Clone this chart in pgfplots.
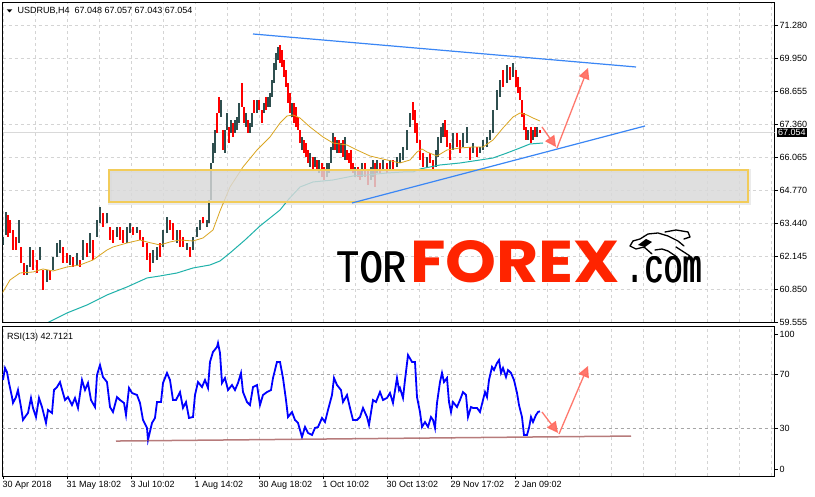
\documentclass[border=0pt]{standalone}
\usepackage{pgfplots}
\pgfplotsset{compat=1.18}
\usepackage{pgfplotstable}
\usepackage{fontspec}
\setmainfont{Liberation Sans}
\newfontfamily\logomono{Liberation Mono}
\newfontfamily\logobold{Poppins}
\usetikzlibrary{arrows.meta}

\definecolor{candleDark}{HTML}{2F4F4F}
\definecolor{candleRed}{HTML}{FF0000}
\definecolor{maGold}{HTML}{DAA520}
\definecolor{maTeal}{HTML}{20B2AA}
\definecolor{trendBlue}{HTML}{3A86F5}
\definecolor{arrowRed}{HTML}{FF6A5E}
\definecolor{rsiBlue}{HTML}{0000FF}
\definecolor{supportBrown}{HTML}{A05050}
\definecolor{gridGray}{HTML}{D4D4D4}
\definecolor{boxGold}{HTML}{F2CC5A}
\definecolor{boxFill}{HTML}{D9D9D9}
\definecolor{logoRed}{HTML}{FF2400}

\pgfplotsset{
  mtpanel/.style={
    scale only axis, width=772pt, xmin=2.5, xmax=774.5,
    at={(0pt,0pt)}, anchor=south west,
    axis line style={black, line width=0.8pt},
    ytick pos=right, yticklabel pos=right,
    tick align=outside, major tick length=3.5pt,
    tick style={black, line width=0.6pt},
    grid style={gridGray, dash pattern=on 3pt off 3pt, line width=0.6pt},
    ticklabel style={font=\fontsize{9}{10}\selectfont},
    yticklabel style={anchor=west, inner sep=0pt, xshift=1.5pt},
  },
  candles/.style={draw=none, error bars/.cd, y dir=plus, y explicit,
    error mark=none, error bar style={draw=#1, line width=2pt}},
}

\begin{document}
% x = bar position in pixels, lo/hi = low and high price of the bar
\pgfplotstableread{
x lo hi
3 62.595 62.911
6 62.990 63.898
19 62.674 63.582
27 61.411 61.806
30 61.727 62.516
40 62.003 62.516
47 61.135 61.608
53 61.608 62.122
57 62.122 62.674
60 62.280 62.793
70 61.806 62.201
77 61.806 62.280
83 62.003 62.793
90 62.280 63.069
97 62.911 63.582
100 63.464 64.096
107 63.464 63.859
117 62.911 63.306
127 62.674 63.306
130 63.069 63.464
137 63.069 63.306
153 61.885 62.398
157 62.003 62.516
163 62.516 63.188
167 63.069 63.701
177 62.674 63.188
187 62.398 62.674
193 62.398 62.911
197 62.911 63.306
200 63.188 63.582
207 63.306 63.582
209 63.464 64.372
211 64.372 65.833
213 65.833 66.622
215 66.228 67.136
221 67.649 68.320
225 66.228 67.136
227 67.136 67.807
231 67.017 67.530
235 67.017 67.530
237 67.136 67.649
239 67.412 68.202
246 67.254 67.807
250 67.017 67.412
252 67.254 67.807
257 67.807 68.320
264 67.807 68.202
268 68.044 68.438
270 68.044 68.596
272 68.438 69.110
274 68.991 69.781
276 69.504 70.176
278 69.899 70.412
292 67.649 68.202
302 66.346 66.859
310 65.675 66.228
315 65.675 66.070
319 65.438 65.951
327 65.280 65.833
329 65.438 65.833
331 65.833 66.464
333 66.346 67.017
337 66.228 66.741
341 66.228 66.622
345 65.951 66.859
355 65.280 65.675
362 65.280 65.833
371 65.162 65.675
373 65.280 65.951
377 65.438 65.951
383 65.556 65.951
390 65.556 65.951
397 65.675 66.070
400 65.833 66.228
403 65.951 66.464
407 66.346 67.136
410 67.254 67.807
427 65.675 66.070
436 65.675 66.346
438 66.070 66.859
441 66.622 67.254
443 66.859 67.412
453 66.346 67.017
463 66.464 67.017
467 66.622 67.254
473 66.228 66.622
480 66.228 66.464
483 66.346 66.741
487 66.464 66.859
490 66.741 67.136
493 67.017 67.925
497 67.925 68.715
500 68.438 69.110
507 68.991 69.702
513 69.228 69.781
528 66.741 67.136
533 66.741 67.136
537 66.859 67.254
}\candleUp
\pgfplotstableread{
x lo hi
8 62.911 63.780
10 63.069 63.582
13 62.398 63.188
16 62.398 62.911
21 61.885 62.516
24 61.411 61.885
33 61.608 62.398
37 61.490 62.003
43 60.819 61.608
50 61.214 61.608
63 61.885 62.516
67 61.885 62.280
73 61.727 62.122
80 61.727 62.003
87 62.122 62.674
93 62.003 62.793
103 63.306 63.859
110 62.793 63.306
113 62.674 63.188
120 62.793 63.306
123 62.674 63.188
133 62.990 63.306
140 62.793 63.188
143 62.516 62.911
147 62.003 62.674
150 61.529 62.280
160 62.122 62.674
170 63.188 63.582
173 62.793 63.464
180 62.516 63.188
183 62.516 62.911
190 62.122 62.516
203 63.464 63.701
217 67.017 67.807
219 67.807 68.438
223 66.346 67.136
229 66.622 67.254
233 66.859 67.412
242 68.044 68.991
244 67.412 68.044
248 67.017 67.530
254 67.807 68.320
259 67.925 68.320
262 67.412 67.925
266 67.925 68.438
280 69.781 70.491
282 69.623 70.294
284 69.228 69.899
286 68.833 69.504
288 68.202 68.991
290 67.807 68.596
294 67.412 68.202
296 67.254 68.044
298 67.136 67.649
300 66.622 67.136
304 66.228 66.741
306 66.070 66.622
308 65.833 66.346
313 65.556 66.070
317 65.556 65.951
322 65.280 65.833
324 65.162 65.675
335 66.346 66.859
339 66.228 66.741
343 66.070 66.741
347 65.951 66.346
349 65.833 66.228
351 65.556 66.346
353 65.438 65.833
358 65.280 65.675
360 65.162 65.556
365 65.280 65.833
368 64.964 65.556
375 64.885 65.833
380 65.438 65.833
387 65.438 65.833
393 65.556 65.951
413 67.530 68.241
415 67.017 67.925
417 66.622 67.412
420 65.951 66.741
423 65.675 66.228
430 65.833 66.228
433 65.556 65.951
445 66.859 67.530
447 66.464 67.136
450 65.951 66.622
457 66.464 67.017
460 66.228 66.741
470 65.951 66.464
477 66.070 66.464
503 68.833 69.504
510 69.110 69.623
516 68.833 69.504
518 68.596 69.228
520 68.320 68.833
522 67.649 68.320
524 67.136 67.807
526 66.741 67.254
531 66.622 67.254
535 66.859 67.254
540 67.017 67.136
}\candleDown

\begin{tikzpicture}[x=1pt,y=1pt]
\fill[white] (0,0) rectangle (815,497);

% ---- price panel ----
\begin{scope}[xshift=2.5pt, yshift=175pt]
\begin{axis}[mtpanel, height=320pt,
  ymin=59.555, ymax=72.189,
  xtick={3,35,...,771}, xticklabels={}, xtick style={draw=none},
  xmajorgrids, ymajorgrids,
  ytick={59.555,60.850,62.145,63.440,64.770,66.065,67.360,68.655,69.950,71.280},
  yticklabels={59.555,60.850,62.145,63.440,64.770,66.065,67.360,68.655,69.950,71.280},
]
\draw[black!15, line width=0.6pt] (axis cs:2.5,67.054) -- (axis cs:774.5,67.054);

\addplot[candles=candleDark] table[x=x, y=lo, y error plus expr=\thisrow{hi}-\thisrow{lo}] {\candleUp};
\addplot[candles=candleRed] table[x=x, y=lo, y error plus expr=\thisrow{hi}-\thisrow{lo}] {\candleDown};

\addplot[maGold, line width=0.8pt] coordinates {
(0,60.543)(10,61.214)(20,61.490)(33,61.529)(43,61.648)(53,61.569)(67,61.727)
(80,61.806)(93,62.003)(107,62.398)(113,62.516)(127,62.674)(140,62.793)(147,62.714)
(160,62.595)(170,62.714)(180,62.793)(193,62.753)(203,62.872)(213,63.188)(220,63.938)
(230,64.885)(243,65.675)(257,66.346)(270,66.859)(280,67.412)(287,67.688)(293,67.728)
(300,67.609)(310,67.254)(323,66.859)(333,66.622)(347,66.543)(357,66.346)(370,66.109)
(387,65.951)(400,65.833)(410,65.951)(417,66.267)(422,66.386)(427,66.267)(437,66.109)
(447,66.346)(460,66.425)(473,66.464)(483,66.464)(493,66.741)(503,67.215)(513,67.649)
(520,67.807)(527,67.728)(533,67.609)(540,67.490)};

\addplot[maTeal, line width=1pt] coordinates {
(45,59.476)(67,59.911)(87,60.227)(107,60.622)(127,60.937)(147,61.293)(160,61.372)
(177,61.490)(193,61.687)(210,61.806)(220,61.964)(230,62.280)(245,62.793)(260,63.346)
(270,63.661)(280,63.977)(288,64.372)(300,64.885)(313,65.083)(333,65.162)(353,65.319)
(367,65.359)(387,65.438)(403,65.477)(413,65.477)(420,65.596)(440,65.754)(460,65.833)
(480,65.951)(493,66.030)(507,66.228)(520,66.425)(530,66.583)(543,66.622)};

% support zone with a soft shadow
\draw[black, opacity=0.08, line width=4pt] (axis cs:110,64.250) rectangle (axis cs:749,65.520);
\fill[boxFill, fill opacity=0.82] (axis cs:109,64.293) rectangle (axis cs:748,65.556);
\draw[boxGold, line width=1.2pt] (axis cs:109,64.293) rectangle (axis cs:748,65.556);

\addplot[trendBlue, line width=1.2pt] coordinates {(253,70.926)(636,69.623)};
\addplot[trendBlue, line width=1.2pt] coordinates {(352,64.254)(645,67.294)};

\addplot[arrowRed, opacity=0.9, line width=1.3pt, -{Triangle[length=11pt,width=11pt]}]
  coordinates {(542,67.254)(556,66.464)};
\addplot[arrowRed, opacity=0.9, line width=1.3pt, -{Triangle[length=11pt,width=11pt]}]
  coordinates {(557,66.425)(588,69.583)};
\end{axis}
\end{scope}

% ---- RSI panel ----
\begin{scope}[xshift=2.5pt, yshift=21pt]
\begin{axis}[mtpanel, height=149.3pt,
  ymin=-5.19, ymax=105.4,
  ytick={0,30,70,100}, yticklabels={0,30,70,100},
  xtick pos=bottom,
  xtick={3,67,...,515},
  xticklabels={30 Apr 2018, 31 May 18:02, 3 Jul 10:02, 1 Aug 14:02, 30 Aug 18:02,
    1 Oct 10:02, 30 Oct 13:02, 29 Nov 17:02, 2 Jan 09:02},
  minor xtick={35,99,...,739,579,643,707,771}, minor tick length=0pt,
  xmajorgrids, xminorgrids,
  minor grid style={gridGray, dash pattern=on 3pt off 3pt, line width=0.6pt},
  xticklabel style={anchor=north west, inner sep=0pt, xshift=-0.5pt, yshift=-1.5pt},
]
\draw[black!35, dash pattern=on 3pt off 3pt, line width=0.6pt] (axis cs:2.5,70) -- (axis cs:774.5,70);
\draw[black!35, dash pattern=on 3pt off 3pt, line width=0.6pt] (axis cs:2.5,30) -- (axis cs:774.5,30);

\addplot[rsiBlue, line width=1.8pt] coordinates {
(3,65.9)(5,74.8)(7,71.8)(9,63.7)(12,53.3)(13,48.9)(16,53.3)(18,58.5)(21,45.9)(23,36.3)
(25,38.5)(28,41.5)(31,52.6)(33,45.2)(36,38.5)(39,52.6)(42,45.9)(46,34.1)(48,43.7)(52,41.5)
(54,58.5)(57,60.7)(60,64.4)(63,56.3)(65,51.1)(68,53.3)(72,47.4)(75,52.6)(78,45.2)(82,65.9)
(85,58.5)(88,63.7)(91,51.1)(95,45.9)(97,69.6)(100,77.0)(103,68.1)(107,64.4)(110,45.9)
(113,42.2)(117,53.3)(120,51.1)(124,48.9)(126,40.0)(129,60.0)(132,56.3)(137,54.8)(140,48.9)
(143,36.3)(147,30.4)(148,21.5)(152,34.1)(155,37.8)(157,49.6)(161,49.6)(163,63.7)(167,71.1)
(170,65.9)(173,51.1)(176,51.1)(180,57.0)(183,45.2)(186,49.6)(189,37.8)(193,38.5)(195,54.8)
(198,64.4)(202,60.7)(205,65.9)(208,60.0)(210,79.3)(213,86.7)(217,90.4)(218,93.3)(220,85.9)
(222,63.7)(225,67.4)(228,58.5)(232,62.2)(235,58.5)(238,63.7)(241,71.1)(243,57.0)(247,49.6)
(250,47.4)(253,60.7)(257,62.2)(260,47.4)(263,54.8)(267,57.0)(271,58.5)(273,67.4)(277,79.3)
(280,79.3)(283,67.4)(286,51.1)(288,38.5)(292,42.2)(295,36.3)(298,34.1)(302,23.7)(305,31.1)
(308,26.7)(312,25.2)(315,30.4)(318,31.1)(322,37.8)(325,34.8)(328,43.7)(332,54.8)(334,67.4)
(337,62.2)(341,58.5)(343,49.6)(347,54.8)(350,45.2)(353,36.3)(357,36.3)(360,38.5)(363,45.2)
(367,38.5)(369,32.6)(373,51.1)(376,49.6)(380,57.0)(383,51.1)(387,52.6)(390,56.3)(393,48.9)
(397,67.4)(399,58.5)(400,60.0)(403,52.6)(405,65.9)(408,84.4)(412,79.3)(415,79.3)(417,53.3)
(420,42.2)(422,31.1)(425,34.8)(428,31.1)(431,38.5)(433,36.3)(435,30.4)(437,48.9)(440,64.4)
(442,71.1)(444,64.4)(447,67.4)(449,49.6)(451,42.2)(453,49.6)(457,45.9)(460,51.1)(463,57.0)
(466,54.8)(468,38.5)(471,45.9)(473,45.2)(477,45.2)(480,42.2)(483,51.1)(485,57.0)(487,53.3)
(489,65.9)(492,75.6)(494,73.3)(497,78.5)(499,80.7)(501,71.1)(503,74.8)(506,68.1)(508,73.3)
(511,71.1)(514,65.9)(517,56.3)(519,47.4)(522,38.5)(524,25.2)(527,25.2)(529,30.4)(531,38.5)
(533,34.8)(536,40.0)(538,42.2)(540,42.7)};

\addplot[supportBrown, opacity=0.75, line width=1.5pt] coordinates {(116,20.7)(631,24.4)};

\addplot[arrowRed, opacity=0.9, line width=1.3pt, -{Triangle[length=11pt,width=11pt]}]
  coordinates {(542,42.2)(558,26.7)};
\addplot[arrowRed, opacity=0.9, line width=1.3pt, -{Triangle[length=11pt,width=11pt]}]
  coordinates {(559,25.9)(588,76.3)};
\end{axis}
\end{scope}

% ---- texts ----
\fill (6.7,487.7) -- (12.3,487.7) -- (9.5,484.5) -- cycle;
\node[anchor=base west, inner sep=0pt, font=\fontsize{9}{10}\selectfont] at (17.5,483)
  {USDRUB,H4\ \ 67.048 67.057 67.043 67.054};
\node[anchor=base west, inner sep=0pt, font=\fontsize{9}{10}\selectfont] at (7,157)
  {RSI(13) 42.7121};
\node[fill=black, text=white, inner sep=1pt, anchor=west, font=\fontsize{9}{10}\selectfont]
  at (777,364.5) {67.054};

% ---- logo ----
\foreach \dx in {0,0.7} {
  \node[anchor=south west, inner sep=0pt] at (336+\dx,214) {\resizebox{70pt}{31pt}{\logomono TOR}};
  \node[anchor=south west, inner sep=0pt] at (625+\dx,214) {\resizebox{77pt}{26pt}{\logomono .com}};
}
\node[anchor=south west, inner sep=0pt, text=logoRed] at (410,214)
  {\resizebox{210pt}{42pt}{\logobold\bfseries FOREX}};
% bull sketch
\begin{scope}[line width=1.3pt, line join=round, line cap=round]
\draw (633,256) -- (640,258) -- (648,263) -- (658,264) -- (668,261) -- (678,256) -- (684,251);
\draw (633,256) -- (630,251) -- (636,248) -- (644,250) -- (652,243);
\draw (655,247) -- (662,248) -- (668,246) -- (677,240);
\draw (676,250) -- (690,241);
\draw (665,265) -- (676,267) -- (688,265) -- (690,260) -- (684,258);
\fill (638,252) -- (646,258) -- (652,255) -- (645,250) -- cycle;
\end{scope}

\pgfresetboundingbox
\useasboundingbox (0,0) rectangle (815,497);
\end{tikzpicture}
\end{document}
